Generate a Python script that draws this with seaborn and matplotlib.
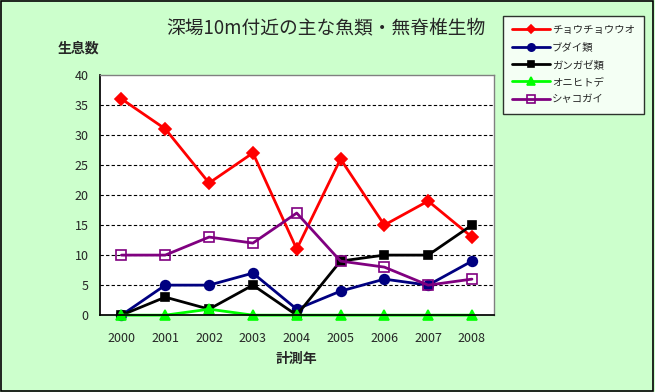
import numpy as np
import pandas as pd
import matplotlib
matplotlib.use('Agg')
import matplotlib.pyplot as plt
import seaborn as sns

years = ['2000', '2001', '2002', '2003', '2004', '2005', '2006', '2007', '2008']
chou = [36, 31, 22, 27, 11, 26, 15, 19, 13]
budai = [0, 5, 5, 7, 1, 4, 6, 5, 9]
gangaze = [0, 3, 1, 5, 0, 9, 10, 10, 15]
onihitode = [0, 0, 1, 0, 0, 0, 0, 0, 0]
shakogai = [10, 10, 13, 12, 17, 9, 8, 5, 6]

names = ['チョウチョウウオ', 'ブダイ類', 'ガンガゼ類', 'オニヒトデ', 'シャコガイ']
series = [chou, budai, gangaze, onihitode, shakogai]

sns.set_theme(style='white')
plt.rcParams['font.family'] = ['Noto Sans CJK JP', 'DejaVu Sans']

bg = '#CCFFCC'
fig = plt.figure(figsize=(6.55, 3.92), dpi=100, facecolor=bg)
fig.patches.append(plt.Rectangle((0.002, 0.003), 0.995, 0.994, transform=fig.transFigure,
                                 fill=False, edgecolor='black', linewidth=1.2))
ax = fig.add_axes([0.152, 0.196, 0.602, 0.613])
ax.set_facecolor('white')

styles = [
    dict(color='#FF0000', marker='D', ms=6, mfc='#FF0000', mec='#FF0000'),
    dict(color='#000080', marker='o', ms=7, mfc='#000080', mec='#000080'),
    dict(color='#000000', marker='s', ms=5.5, mfc='#000000', mec='#000000'),
    dict(color='#00FF00', marker='^', ms=7, mfc='#00FF00', mec='#00FF00'),
    dict(color='#800080', marker='s', ms=7, mfc='none', mec='#800080'),
]

x = np.arange(len(years)) + 0.5
for name, vals, st in zip(names, series, styles):
    df = pd.DataFrame({'x': x, 'y': vals})
    sns.lineplot(data=df, x='x', y='y', ax=ax, color=st['color'], linewidth=2,
                 marker=st['marker'], markersize=st['ms'], markerfacecolor=st['mfc'],
                 markeredgecolor=st['mec'], markeredgewidth=1.2, label=name, clip_on=False)

ax.set_xlim(0, len(years))
ax.set_ylim(0, 40)
ax.set_yticks(range(0, 41, 5))
ax.set_yticklabels([str(v) for v in range(0, 41, 5)], fontsize=9)
ax.set_xticks(x)
ax.set_xticklabels(years, fontsize=9)
ax.set_xticks(np.arange(1, len(years)), minor=True)
ax.tick_params(axis='x', which='major', length=0, pad=12)
ax.tick_params(axis='x', which='minor', length=4, direction='in', color='black')
ax.tick_params(axis='y', which='major', length=0, pad=8)
for v in range(5, 40, 5):
    ax.axhline(v, color='black', linestyle=(0, (3, 2)), linewidth=0.8, zorder=0)
for side in ['top', 'right']:
    ax.spines[side].set_color('#808080')
    ax.spines[side].set_linewidth(1)
ax.spines['left'].set_color('black')
ax.spines['bottom'].set_color('black')
ax.set_xlabel('計測年', fontsize=10, fontweight='bold', labelpad=5)
ax.set_ylabel('')

fig.text(0.497, 0.928, '深場10m付近の主な魚類・無脊椎生物', ha='center', va='center', fontsize=13.5)
fig.text(0.119, 0.877, '生息数', ha='center', va='center', fontsize=10, fontweight='bold')

leg = ax.legend(loc='upper left', bbox_to_anchor=(0.768, 0.96), bbox_transform=fig.transFigure,
                frameon=True, fancybox=False, fontsize=7.5, handlelength=3.6, labelspacing=0.7,
                borderpad=0.9, handletextpad=0.2, markerscale=0.75, borderaxespad=0)
leg.get_frame().set_edgecolor('black')
leg.get_frame().set_linewidth(1)

fig.savefig('out.png', dpi=100, facecolor=bg)
